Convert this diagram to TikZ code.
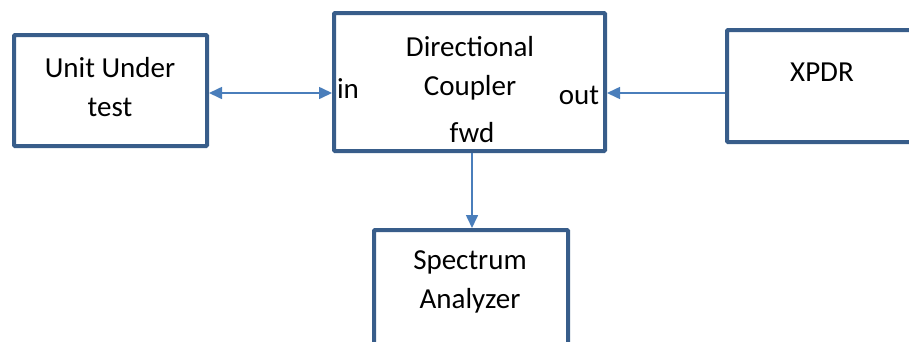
\documentclass[tikz,border=0pt]{standalone}
\usepackage{fontspec}
\setmainfont{Carlito}
\usepackage{tikz}
\usetikzlibrary{positioning, calc, arrows.meta}

\definecolor{boxblue}{HTML}{385D8A}
\definecolor{linkblue}{HTML}{4A7EBB}

\begin{document}
\begin{tikzpicture}[x=1pt, y=-1pt, >={Triangle[length=13pt,width=12pt]}]
        \tikzset{
          block/.style={draw=boxblue, line width=4pt, fill=white, rounded corners=1pt, align=center, inner sep=0pt},
          link/.style={draw=linkblue, line width=1.6pt},
          lbl/.style={font=\fontsize{29}{39}\selectfont, align=center, inner sep=0pt}
        }
        \useasboundingbox (0,0) rectangle (909,341);
        \clip (0,0) rectangle (909,341);

        % Blocks
        \node[block, minimum width=193pt, minimum height=111pt] (uut) at (110.5,90.5) {};
        \node[block, minimum width=271pt, minimum height=138pt] (dc) at (469.5,82) {};
        \node[block, minimum width=200pt, minimum height=112pt] (xpdr) at (827,86) {};
        \node[block, minimum width=194pt, minimum height=124pt] (sa) at (471,292) {};

        % Labels
        \node[lbl] (uuttxt) at (110,87) {Unit Under\\test};
        \node[lbl] (dctxt) at (470,68) {Directional\\Coupler};
        \node[lbl] (fwd) at (472,133) {fwd};
        \node[lbl] (in) at (348,89) {in};
        \node[lbl] (out) at (579,95) {out};
        \node[lbl] (xpdrtxt) at (822,72) {XPDR};
        \node[lbl] (satxt) at (470,282) {Spectrum\\Analyzer};

        % Connections
        \draw[link, <->] ([yshift=-2.5pt]uut.east) -- ([yshift=-2.5pt]uut.east -| dc.west);
        \draw[link, ->] ([yshift=-7pt]xpdr.west) -- ([yshift=-7pt]xpdr.west -| dc.east);
        \draw[link, ->] (dc.south -| fwd) -- (sa.north -| fwd);
\end{tikzpicture}
\end{document}
